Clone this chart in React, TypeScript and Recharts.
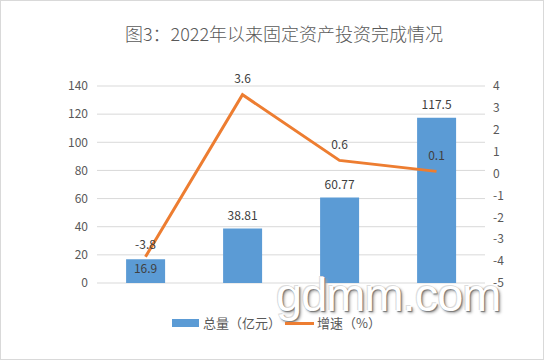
import {
  Bar,
  CartesianGrid,
  ComposedChart,
  LabelList,
  Line,
  XAxis,
  YAxis,
} from "recharts";

const periods = ["一", "二", "三", "四"];
const totals = [16.9, 38.81, 60.77, 117.5];
const growth = [-3.8, 3.6, 0.6, 0.1];
const leftTicks = [0, 20, 40, 60, 80, 100, 120, 140];
const rightTicks = [-5, -4, -3, -2, -1, 0, 1, 2, 3, 4];

const data = periods.map((p, i) => ({ p, total: totals[i], rate: growth[i] }));

const labelColor = "#404040";
const tickStyle = { fill: "#595959", fontSize: 12, fontFamily: "Noto Sans CJK SC" };
const font = "'Noto Sans CJK SC', 'Noto Sans', sans-serif";

const BarLabel = (props: any) => {
  const { x, y, width, value, index } = props;
  const dy = index === 0 ? 8 : -14;
  return (
    <text
      x={x + width / 2}
      y={y + dy}
      textAnchor="middle"
      dominantBaseline="central"
      fill={labelColor}
      fontSize={12}
      fontFamily={font}
    >
      {value}
    </text>
  );
};

const LineLabel = (props: any) => {
  const { x, y, value, index } = props;
  const dy = index === 0 ? -13 : -17;
  return (
    <text
      x={x}
      y={y + dy}
      textAnchor="middle"
      dominantBaseline="central"
      fill={labelColor}
      fontSize={12}
      fontFamily={font}
    >
      {value}
    </text>
  );
};

export default function App() {
  return (
    <div
      style={{
        position: "absolute",
        left: 0,
        top: 0,
        width: 544,
        height: 360,
        background: "#fff",
        border: "1px solid #d9d9d9",
        boxSizing: "border-box",
        fontFamily: font,
        overflow: "hidden",
      }}
    >
      <div
        style={{
          position: "absolute",
          left: 0,
          top: 20,
          width: 566,
          textAlign: "center",
          fontSize: 18,
          fontWeight: 300,
          color: "#595959",
          lineHeight: "24px",
        }}
      >
        图3：2022年以来固定资产投资完成情况
      </div>
      <div style={{ position: "absolute", left: -1, top: -1 }}>
        <ComposedChart
          width={544}
          height={360}
          data={data}
          margin={{ top: 86, right: 0, bottom: 77, left: 0 }}
          barCategoryGap="30%"
        >
          <CartesianGrid
            yAxisId="left"
            vertical={false}
            stroke="#d9d9d9"
          />
          <XAxis
            dataKey="p"
            tick={false}
            tickLine={false}
            axisLine={false}
            height={0}
          />
          <YAxis
            yAxisId="left"
            width={97}
            domain={[0, 140]}
            ticks={leftTicks}
            axisLine={false}
            tickLine={false}
            tickMargin={3}
            tick={tickStyle}
            interval={0}
          />
          <YAxis
            yAxisId="right"
            orientation="right"
            width={59}
            domain={[-5, 4]}
            ticks={rightTicks}
            axisLine={false}
            tickLine={false}
            tickMargin={2}
            tick={{ ...tickStyle, textAnchor: "start" }}
            interval={0}
          />
          <Bar
            yAxisId="left"
            dataKey="total"
            fill="#5b9bd5"
            isAnimationActive={false}
          >
            <LabelList dataKey="total" content={BarLabel} />
          </Bar>
          <Line
            yAxisId="right"
            dataKey="rate"
            stroke="#ed7d31"
            strokeWidth={3}
            dot={false}
            activeDot={false}
            type="linear"
            isAnimationActive={false}
          >
            <LabelList dataKey="rate" content={LineLabel} />
          </Line>
        </ComposedChart>
      </div>
      <div
        style={{
          position: "absolute",
          left: 275,
          top: 268,
          fontFamily: "'Liberation Sans', Arial, sans-serif",
          fontSize: 47,
          color: "#fff",
          letterSpacing: -1,
          textShadow: "1px 1px 1px #777, 2px 2px 3px #aaa, -1px -1px 0 #ddd",
          lineHeight: "52px",
        }}
      >
        gdmm.com
      </div>
      <div
        style={{
          position: "absolute",
          left: 171,
          top: 313,
          display: "flex",
          alignItems: "center",
          fontSize: 13,
          color: "#595959",
          lineHeight: "18px",
        }}
      >
        <span
          style={{ display: "inline-block", width: 27, height: 8, background: "#5b9bd5", marginRight: 4 }}
        />
        <span>总量（亿元）</span>
        <span
          style={{ display: "inline-block", width: 29, height: 3, background: "#ed7d31", margin: "0 3px 0 4px" }}
        />
        <span>增速（%）</span>
      </div>
    </div>
  );
}
